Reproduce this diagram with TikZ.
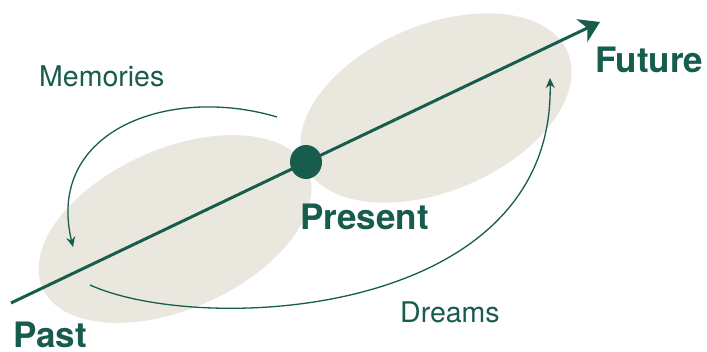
\documentclass[tikz,border=0pt]{standalone}
\usepackage{fontspec}
\setmainfont{TeX Gyre Heros}
\usetikzlibrary{arrows.meta,shapes.geometric}
\definecolor{dgreen}{RGB}{24,92,78}
\definecolor{beige}{RGB}{234,232,222}
\tikzset{
  blob/.style={fill=beige, draw=none},
  lbl/.style={text=dgreen, inner sep=0pt, anchor=base west, font=\fontsize{28.5}{30}\selectfont},
  blbl/.style={text=dgreen, inner sep=0pt, anchor=base west, font=\fontsize{35}{38}\selectfont\bfseries},
  thinarrow/.style={draw=dgreen, line width=1.3pt, -{Stealth[length=10pt,width=9pt]}},
}
\begin{document}
\begin{tikzpicture}[x=1pt,y=1pt]
\useasboundingbox (0,0) rectangle (707,352);
\fill[white] (0,0) rectangle (707,352);
% ellipses
\fill[blob] (175,123) ellipse [x radius=145, y radius=80, rotate=24];
\fill[blob] (436,244) ellipse [x radius=143, y radius=83, rotate=23];
% main axis
\coordinate (start) at (11,49);
\coordinate (end) at (600,330);
\draw[dgreen, line width=3pt, -{Stealth[length=20pt,width=25pt,inset=6pt]}] (start) -- (end);
\node[ellipse, fill=dgreen, minimum width=32pt, minimum height=34pt, inner sep=0pt] (dot) at (306,190) {};
% arcs
\coordinate (m0) at (277,235);
\coordinate (m1) at (73,105);
\draw[thinarrow] (m0) .. controls (170,267) and (45,222) .. (m1);
\coordinate (d0) at (90,67);
\coordinate (d1) at (550,274);
\draw[thinarrow] (d0) .. controls (200,17) and (555,32) .. (d1);
% labels
\node[lbl] (memories) at (39,265) {Memories};
\node[lbl] (dreams) at (400,29) {Dreams};
\node[blbl] (past) at (13,4) {Past};
\node[blbl] (present) at (300,122) {Present};
\node[blbl] (future) at (595,279) {Future};
\end{tikzpicture}
\end{document}
